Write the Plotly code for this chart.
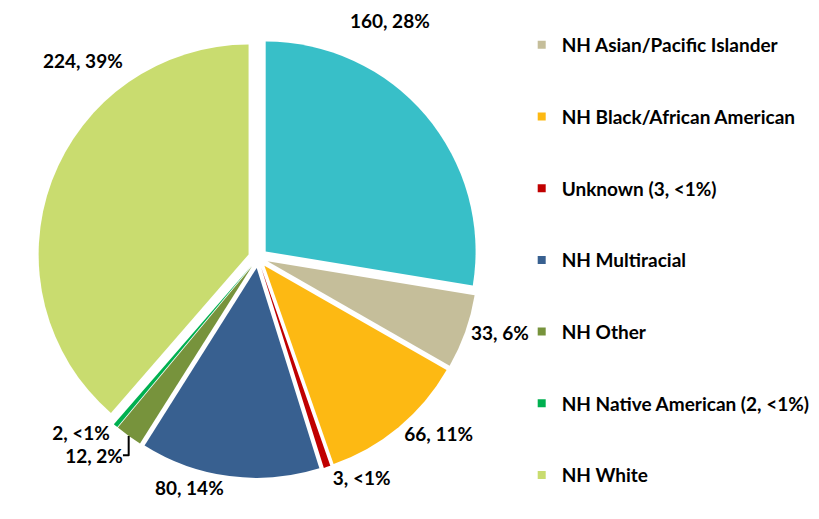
import plotly.graph_objects as go

categories = ["Hispanic", "NH Asian/Pacific Islander", "NH Black/African American",
              "Unknown (3, <1%)", "NH Multiracial", "NH Other",
              "NH Native American (2, <1%)", "NH White"]
values = [160, 33, 66, 3, 80, 12, 2, 224]
colors = ["#38BFC8", "#C5BE9A", "#FDB913", "#C00000", "#386090", "#77933C",
          "#00B050", "#C9DC6F"]
legend_items = categories[1:]

total = sum(values)
labels_txt = []
for v in values:
    p = v / total * 100
    labels_txt.append(f"{v}, <1%" if p < 1 else f"{v}, {round(p):.0f}%")

FONT = "Lato"
LABEL_FONT = dict(family=FONT, size=19, color="#000000", weight="bold")

# The two largest slices carry their labels above the pie, as in the reference;
# those are drawn as annotations, the rest by the pie itself.
pie_text = [""] + labels_txt[1:-1] + [""]

fig = go.Figure()
fig.add_trace(go.Pie(
    labels=categories, values=values, text=pie_text,
    textinfo="text", textposition="outside",
    sort=False, direction="clockwise", rotation=0,
    pull=[0.048] * len(values),
    marker=dict(colors=colors, line=dict(width=0)),
    textfont=LABEL_FONT,
    domain=dict(x=[0.0464, 0.5836], y=[0.079, 0.9268]),
    showlegend=False, hoverinfo="label+value+percent",
))

for i, name in enumerate(legend_items):
    fig.add_trace(go.Scatter(
        x=[None], y=[None], mode="markers", name=name,
        legendgroup=f"g{i}",
        marker=dict(symbol="square", size=8, color=colors[i + 1]),
    ))

fig.add_annotation(
    text=labels_txt[0], xref="paper", yref="paper",
    x=0.476, y=0.961, xanchor="center", yanchor="middle",
    showarrow=False, font=LABEL_FONT,
)
fig.add_annotation(
    text=labels_txt[-1], xref="paper", yref="paper",
    x=0.1013, y=0.884, xanchor="center", yanchor="middle",
    showarrow=False, font=LABEL_FONT,
)

fig.update_layout(
    width=819, height=519,
    margin=dict(l=0, r=0, t=0, b=0, autoexpand=False),
    paper_bgcolor="white", plot_bgcolor="white",
    xaxis=dict(visible=False), yaxis=dict(visible=False),
    legend=dict(x=0.637, y=0.95, xanchor="left", yanchor="top",
                tracegroupgap=44, bgcolor="rgba(0,0,0,0)",
                font=dict(family=FONT, size=19, color="#000000", weight="bold")),
)

fig.write_html("out.html")
